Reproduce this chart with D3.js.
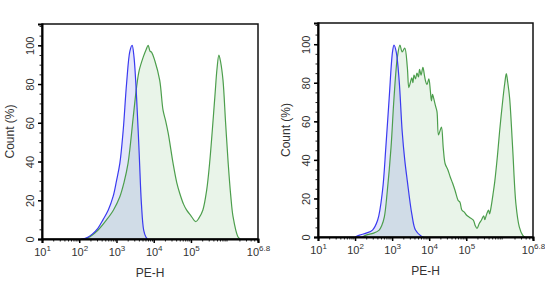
<!DOCTYPE html>
<html>
<head>
<meta charset="utf-8">
<script src="https://cdn.jsdelivr.net/npm/d3@7"></script>
<style>
  body { margin: 0; background: #fff; }
  text { font-family: "Liberation Sans", Arial, sans-serif; fill: #333; }
</style>
</head>
<body>
<svg id="chart" width="545" height="301"></svg>
<script>
// histogram points: [log10(PE-H), count %]
let leftBlue = [[2.05,0],[2.2,0.6],[2.35,2.5],[2.5,5.5],[2.64,10],[2.78,15],[2.91,22],[3.0,30],[3.09,39],[3.18,56],[3.27,80],[3.36,97],[3.42,100],[3.47,94],[3.54,73],[3.61,44],[3.67,18],[3.73,4.6],[3.79,1],[3.83,0]]
let leftGreen = [[2.15,0],[2.29,1.2],[2.5,4.5],[2.73,9.8],[2.92,15],[3.09,21.8],[3.2,29],[3.31,39],[3.45,63],[3.54,78.5],[3.61,87],[3.72,94],[3.8,98],[3.85,100],[3.9,97],[3.94,96.5],[4.03,92],[4.16,82],[4.25,66.5],[4.32,61],[4.39,54.5],[4.52,39],[4.62,29],[4.70,23.5],[4.8,18],[4.88,15],[5.0,12],[5.13,9],[5.22,11],[5.32,15],[5.42,25],[5.50,39],[5.64,73],[5.70,88],[5.75,95],[5.80,91],[5.86,82],[5.93,60],[6.0,39],[6.07,22],[6.13,11.5],[6.26,1.2],[6.32,0]]
let rightBlue = [[2.0,0],[2.12,1],[2.3,2],[2.47,3.6],[2.61,8.8],[2.74,24],[2.83,46.5],[2.92,72],[3.01,96],[3.05,99.5],[3.11,96],[3.19,81],[3.27,55],[3.34,40],[3.41,29],[3.53,12],[3.63,3.6],[3.77,0.7],[3.85,0]]
let rightGreen = [[2.2,0],[2.3,1],[2.5,2],[2.65,3.6],[2.72,6],[2.79,10.5],[2.87,24],[2.97,46.5],[3.05,72],[3.14,93],[3.21,99.5],[3.27,96],[3.34,98],[3.41,88],[3.45,77.5],[3.49,80],[3.53,82.6],[3.56,80],[3.59,84],[3.63,82],[3.67,85],[3.71,83],[3.74,87],[3.78,84],[3.83,88],[3.87,84],[3.90,81],[3.94,79],[3.99,82],[4.03,76],[4.06,70.6],[4.09,74],[4.12,72],[4.17,68],[4.21,65],[4.25,53],[4.29,55],[4.33,57],[4.38,46],[4.43,38],[4.5,35],[4.57,31],[4.63,28],[4.70,24],[4.78,19],[4.83,18],[4.88,14],[4.94,13],[5.01,11.3],[5.1,10],[5.19,8.8],[5.24,6],[5.29,4.5],[5.35,7],[5.41,8.8],[5.47,11],[5.50,9],[5.54,11.3],[5.60,14],[5.63,12],[5.67,15.6],[5.72,22],[5.77,29],[5.84,42],[5.90,55],[5.99,72],[6.04,80],[6.08,84.7],[6.12,80],[6.17,72],[6.25,46.5],[6.34,17],[6.43,5.3],[6.52,1],[6.58,0]]

let yMajor = [0, 20, 40, 60, 80, 100]
let yMinor = d3.range(0, 111, 5)
let xMajorExp = [1, 2, 3, 4, 5, 6.8]

let panels = [
  { left: 42, right: 258, top: 24, bottom: 239, blue: leftBlue, green: leftGreen },
  { left: 318, right: 533, top: 23, bottom: 237, blue: rightBlue, green: rightGreen }
]

let svg = d3.select('#chart')

let xMinor = []
for (let e = 1; e < 7; e++) {
  for (let m = 2; m <= 9; m++) {
    let v = m * Math.pow(10, e)
    if (v < Math.pow(10, 6.8)) xMinor.push(v)
  }
}

panels.forEach(function (p) {
  let x = d3.scaleLog().domain([10, Math.pow(10, 6.8)]).range([p.left, p.right])
  let y = d3.scaleLinear().domain([0, 111]).range([p.bottom, p.top])
  let g = svg.append('g')

  let area = d3.area()
    .x(d => x(Math.pow(10, d[0])))
    .y0(y(0))
    .y1(d => y(d[1]))
    .curve(d3.curveCatmullRom)
  let line = area.lineY1()

  // green first, blue over it
  g.append('path').attr('d', area(p.green)).attr('fill', 'rgb(72,163,72)').attr('fill-opacity', 0.12)
  g.append('path').attr('d', area(p.blue)).attr('fill', 'rgb(30,47,222)').attr('fill-opacity', 0.12)
  g.append('path').attr('d', line(p.green)).attr('fill', 'none').attr('stroke', '#4c9e4c').attr('stroke-width', 1.2)
  g.append('path').attr('d', line(p.blue)).attr('fill', 'none').attr('stroke', '#3a3af0').attr('stroke-width', 1.2)

  // frame
  g.append('rect')
    .attr('x', p.left).attr('y', p.top)
    .attr('width', p.right - p.left).attr('height', p.bottom - p.top)
    .attr('fill', 'none').attr('stroke', '#111').attr('stroke-width', 1.5)

  // x minor ticks
  g.append('g')
    .attr('transform', 'translate(0,' + p.bottom + ')')
    .call(d3.axisBottom(x).tickValues(xMinor).tickSize(2.5).tickFormat(''))
    .call(a => a.select('.domain').remove())
    .call(a => a.selectAll('line').attr('stroke', '#222'))

  // x major ticks
  let xa = g.append('g')
    .attr('transform', 'translate(0,' + p.bottom + ')')
    .call(d3.axisBottom(x).tickValues(xMajorExp.map(e => Math.pow(10, e))).tickSize(4).tickFormat(''))
  xa.select('.domain').attr('stroke', '#000').attr('stroke-width', 2)
  xa.selectAll('line').attr('stroke', '#000').attr('stroke-width', 1.5)
  xa.selectAll('.tick').each(function (d, i) {
    let t = d3.select(this).append('text')
      .attr('y', 17).attr('text-anchor', 'middle')
      .attr('font-size', 11)
    t.append('tspan').text('10')
    t.append('tspan').attr('dy', -5).attr('font-size', 8).text(String(xMajorExp[i]))
  })

  // y minor ticks
  g.append('g')
    .attr('transform', 'translate(' + p.left + ',0)')
    .call(d3.axisLeft(y).tickValues(yMinor).tickSize(2.5).tickFormat(''))
    .call(a => a.select('.domain').remove())
    .call(a => a.selectAll('line').attr('stroke', '#222'))

  // y major ticks
  let ya = g.append('g')
    .attr('transform', 'translate(' + p.left + ',0)')
    .call(d3.axisLeft(y).tickValues(yMajor).tickSize(4).tickFormat(''))
  ya.select('.domain').attr('stroke', '#000').attr('stroke-width', 2)
  ya.selectAll('line').attr('stroke', '#000').attr('stroke-width', 1.5)
  ya.selectAll('.tick').append('text')
    .attr('transform', 'translate(-8,0) rotate(-90)')
    .attr('text-anchor', 'middle')
    .attr('font-size', 11)
    .text(d => d)

  // axis titles
  g.append('text')
    .attr('x', (p.left + p.right) / 2).attr('y', p.bottom + 38)
    .attr('text-anchor', 'middle').attr('font-size', 12)
    .text('PE-H')
  g.append('text')
    .attr('transform', 'translate(' + (p.left - 28) + ',' + ((p.top + p.bottom) / 2) + ') rotate(-90)')
    .attr('text-anchor', 'middle').attr('font-size', 12)
    .text('Count (%)')
})
</script>
</body>
</html>
